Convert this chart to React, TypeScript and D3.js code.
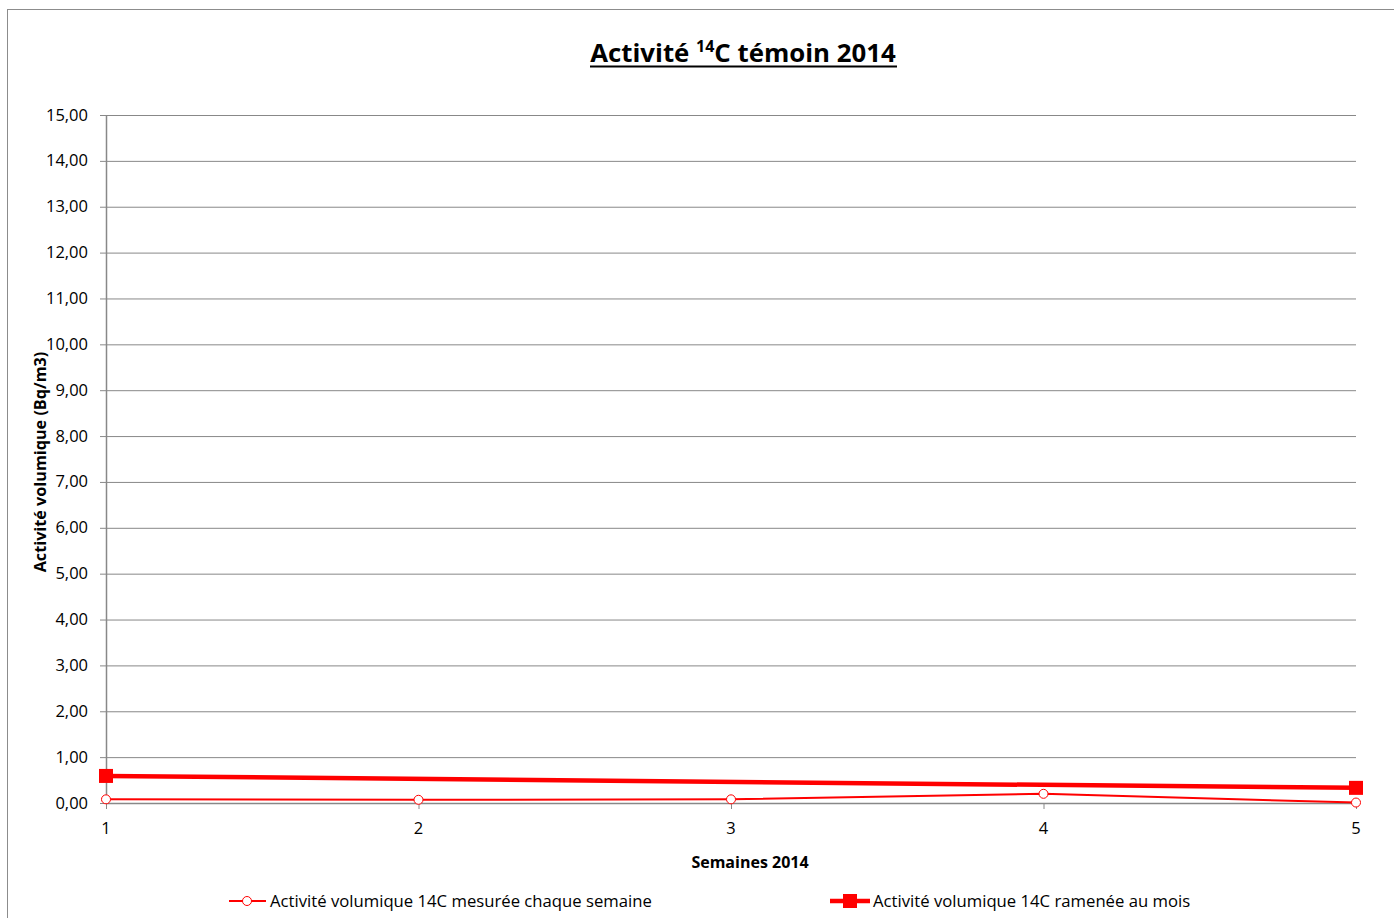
import React from "react";
import * as d3 from "d3";

const weeks = [1, 2, 3, 4, 5];
const weeklyValues = [0.08, 0.07, 0.08, 0.2, 0.01];
const monthlyWeeks = [1, 5];
const monthlyValues = [0.59, 0.33];
const yTicks = [0, 1, 2, 3, 4, 5, 6, 7, 8, 9, 10, 11, 12, 13, 14, 15];
const weeklyLabel = "Activité volumique 14C mesurée chaque semaine";
const monthlyLabel = "Activité volumique 14C ramenée au mois";

const W = 1394, H = 918;
const FONT = "'Open Sans', 'Liberation Sans', sans-serif";

export default function App() {
  const x = d3.scaleLinear().domain([1, 5]).range([106, 1356]);
  const y = d3.scaleLinear().domain([0, 15]).range([803, 115]);
  const line = d3.line<[number, number]>().x(d => x(d[0])).y(d => y(d[1]));
  const weekly: [number, number][] = weeks.map((w, i) => [w, weeklyValues[i]]);
  const monthly: [number, number][] = monthlyWeeks.map((w, i) => [w, monthlyValues[i]]);
  const fmt = (v: number) => v.toFixed(2).replace(".", ",");
  const red = "#ff0000";
  const grid = "#888888";

  return (
    <svg width={W} height={H} style={{ position: "absolute", left: 0, top: 0 }} fontFamily={FONT}>
      <rect x={0} y={0} width={W} height={H} fill="#fff" />
      <rect x={7.5} y={9.5} width={W + 10} height={H + 10} fill="#fff" stroke="#8c8c8c" strokeWidth={1} />
      {/* title */}
      <text x={743} y={62} textAnchor="middle" fontSize={25.8} fontWeight="bold" fill="#000">
        Activité <tspan fontSize={16} dy={-10}>14</tspan><tspan dy={10}>C témoin 2014</tspan>
      </text>
      <line x1={590} x2={897} y1={66.5} y2={66.5} stroke="#000" strokeWidth={2} />
      {/* gridlines */}
      {yTicks.map(t => (
        <g key={t}>
          {t > 0 && <line x1={106} x2={1356} y1={y(t) + 0.5} y2={y(t) + 0.5} stroke={grid} strokeWidth={1} />}
          <line x1={100} x2={106} y1={y(t) + 0.5} y2={y(t) + 0.5} stroke={grid} strokeWidth={1} />
          <text x={88} y={y(t) + 5.5} textAnchor="end" fontSize={16.5} fill="#000">{fmt(t)}</text>
        </g>
      ))}
      {/* axes */}
      <line x1={106.5} x2={106.5} y1={115} y2={803} stroke={grid} strokeWidth={1.5} />
      <line x1={106} x2={1356} y1={803.5} y2={803.5} stroke={grid} strokeWidth={1.5} />
      {weeks.map(w => (
        <g key={w}>
          <line x1={x(w) + 0.5} x2={x(w) + 0.5} y1={803} y2={809} stroke={grid} strokeWidth={1} />
          <text x={x(w)} y={834} textAnchor="middle" fontSize={16.5} fill="#000">{w}</text>
        </g>
      ))}
      {/* axis titles */}
      <text x={750} y={868} textAnchor="middle" fontSize={16} fontWeight="bold" fill="#000">Semaines 2014</text>
      <text transform={`translate(46,462) rotate(-90)`} textAnchor="middle" fontSize={16.2} fontWeight="bold" fill="#000">
        Activité volumique (Bq/m3)
      </text>
      {/* series */}
      <path d={line(monthly) || ""} fill="none" stroke={red} strokeWidth={4.5} />
      {monthly.map((d, i) => (
        <rect key={i} x={x(d[0]) - 7} y={y(d[1]) - 7} width={14} height={14} fill={red} />
      ))}
      <path d={line(weekly) || ""} fill="none" stroke={red} strokeWidth={2} />
      {weekly.map((d, i) => (
        <circle key={i} cx={x(d[0])} cy={y(d[1])} r={4.5} fill="#fff" stroke={red} strokeWidth={1} />
      ))}
      {/* legend */}
      <line x1={229} x2={266} y1={901} y2={901} stroke={red} strokeWidth={2} />
      <circle cx={247} cy={901} r={4.5} fill="#fff" stroke={red} strokeWidth={1} />
      <text x={270} y={907} fontSize={16.7} fill="#000">{weeklyLabel}</text>
      <line x1={830} x2={870} y1={901} y2={901} stroke={red} strokeWidth={4.5} />
      <rect x={843} y={894} width={14} height={14} fill={red} />
      <text x={873} y={907} fontSize={16.7} fill="#000">{monthlyLabel}</text>
    </svg>
  );
}
